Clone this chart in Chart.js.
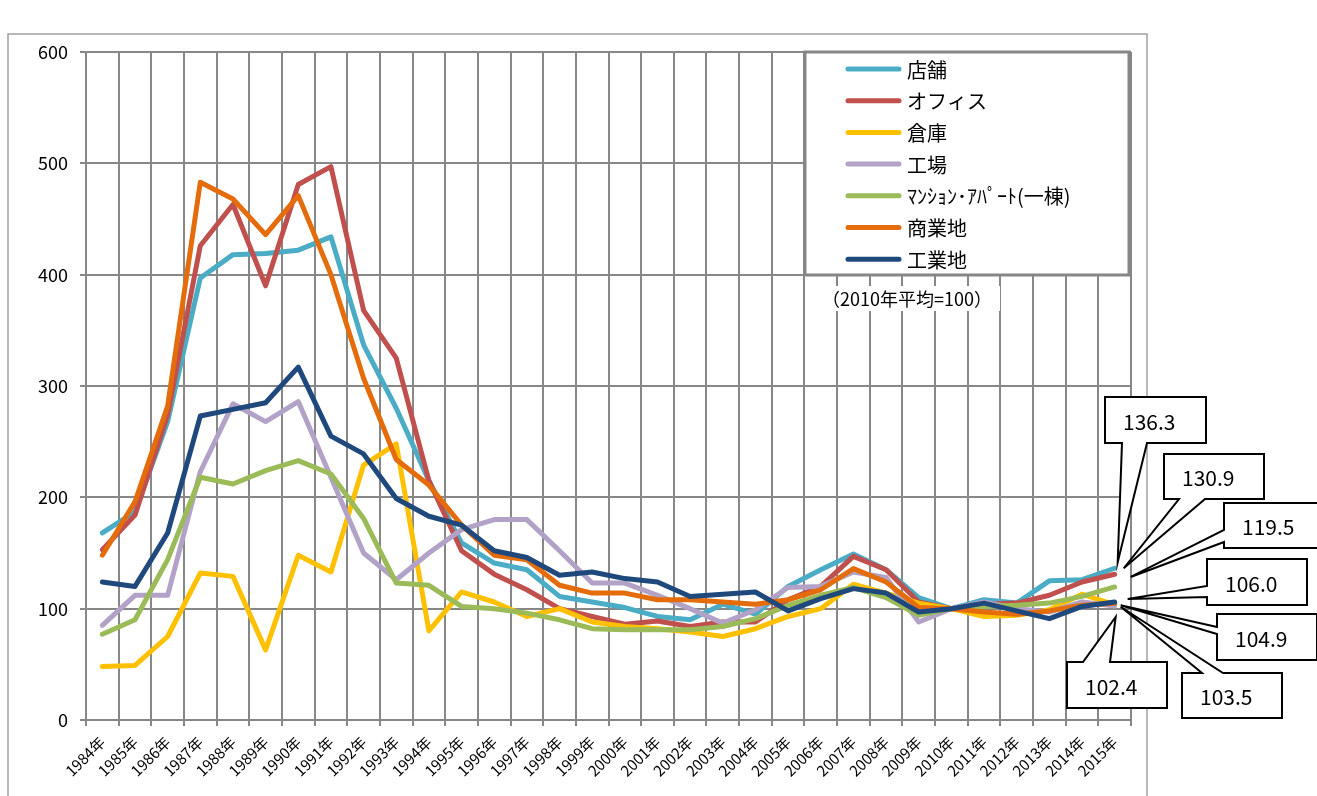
<!DOCTYPE html>
<html><head><meta charset="utf-8">
<script src="https://cdn.jsdelivr.net/npm/chart.js@4/dist/chart.umd.min.js"></script>
<style>html,body{margin:0;padding:0;background:#fff;}canvas{display:block;}</style>
</head><body>
<canvas id="c" width="1317" height="796" style="width:1317px;height:796px"></canvas>
<script>
// ---- data ----
const years = ['1984年','1985年','1986年','1987年','1988年','1989年','1990年','1991年','1992年','1993年','1994年','1995年','1996年','1997年','1998年','1999年','2000年','2001年','2002年','2003年','2004年','2005年','2006年','2007年','2008年','2009年','2010年','2011年','2012年','2013年','2014年','2015年'];
const yTicks = [0,100,200,300,400,500,600];
const seriesNames = ['店舗','オフィス','倉庫','工場','ﾏﾝｼｮﾝ･ｱﾊﾟｰﾄ(一棟)','商業地','工業地'];
const shop       = [168,187,268,397,418,419,422,434,337,280,215,159,141,135,111,106,101, 93, 90,104, 95,120,135,149,135,110,100,108,105,125,126,136.3];
const office     = [153,184,274,426,463,390,481,497,368,325,215,152,131,117,100, 93, 86, 89, 84, 88, 88,108,120,147,135,106,100,104,105,112,124,130.9];
const warehouse  = [ 48, 49, 75,132,129, 63,148,133,229,248, 80,115,106, 93,100, 88, 84, 82, 79, 75, 82, 93,100,122,114,105,100, 93, 94, 99,113,103.5];
const factory    = [ 85,112,112,223,284,268,286,218,150,126,150,171,180,180,152,123,123,112,100, 87, 99,119,120,133,128, 88,100,106,100, 97,106,102.4];
const apartment  = [ 77, 90,144,218,212,224,233,221,181,123,121,102,100, 96, 90, 82, 81, 81, 81, 84, 91,103,112,119,110, 94,100,102,103,105,111,119.5];
const commercial = [148,196,282,483,468,436,471,400,307,234,211,175,148,144,121,114,114,108,108,106,104,108,117,136,124,101,100, 97, 95, 98,103,104.9];
const industrial = [124,120,168,273,279,285,317,255,239,199,183,175,152,146,130,133,127,124,111,113,115, 98,109,118,114, 97,100,105, 98, 91,102,106.0];
const noteText = '（2010年平均=100）';
const calloutLabels = ['136.3','130.9','103.5','102.4','119.5','104.9','106.0'];

// ---- styles ----
const seriesValues = [shop, office, warehouse, factory, apartment, commercial, industrial];
const colors = ['#4BACC6','#C0504D','#FFC000','#B3A2C7','#9BBB59','#E46C0A','#1F497D'];
const FONT = '"Noto Sans CJK JP", "Noto Sans", sans-serif';
const GRID = '#878787';

// callout layout (box x,y,w,h ; wedge side ; wedge base ; tip offset from last point)
const calloutLayout = [
  {ds:0, box:[1105,397,101,46], side:'bottom', a:1122, b:1147, off:[3,-6]},
  {ds:1, box:[1164,454,100,45], side:'bottom', a:1179, b:1205, off:[9,-6]},
  {ds:4, box:[1224,503,100,45], side:'left',   a:530,  b:542,  off:[16,-10]},
  {ds:6, box:[1207,559,100,46], side:'left',   a:586,  b:597,  off:[13,-3]},
  {ds:5, box:[1217,614,100,46], side:'left',   a:627,  b:634,  off:[6,2]},
  {ds:2, box:[1182,673,100,45], side:'top',    a:1202, b:1223, off:[6,2]},
  {ds:3, box:[1067,662,100,46], side:'top',    a:1083, b:1110, off:[1,11]}
];

const framePlugin = {
  id:'frame',
  beforeDraw(chart){
    const c = chart.ctx;
    c.save();
    c.fillStyle='#fff'; c.fillRect(0,0,chart.width,chart.height);
    c.strokeStyle='#a0a0a0'; c.lineWidth=1.5;
    c.strokeRect(8,34,1139,800);
    c.restore();
  }
};

const overlayPlugin = {
  id:'overlay',
  afterDraw(chart){
    const c = chart.ctx;
    c.save();
    // legend box
    c.fillStyle='#fff'; c.fillRect(805,52,324,223);
    c.strokeStyle='#868686'; c.lineWidth=3; c.strokeRect(805,52,324,223);
    c.textBaseline='middle'; c.textAlign='left';
    seriesNames.forEach((n,i)=>{
      const y = 69 + i*31.7;
      c.strokeStyle=colors[i]; c.lineWidth=5; c.lineCap='round';
      c.beginPath(); c.moveTo(848,y); c.lineTo(899,y); c.stroke();
      c.fillStyle='#000';
      c.font = '20px '+FONT;
      c.fillText(n, 907, y+1);
    });
    // note
    c.fillStyle='#fff'; c.fillRect(816,286,184,25);
    c.fillStyle='#000'; c.font='18px '+FONT;
    c.fillText(noteText, 822, 299);
    // callouts
    calloutLayout.forEach(co=>{
      const meta = chart.getDatasetMeta(co.ds);
      const pt = meta.data[meta.data.length-1];
      const tx = pt.x + co.off[0], ty = pt.y + co.off[1];
      const [x,y,w,h] = co.box;
      c.beginPath();
      if(co.side==='bottom'){
        c.moveTo(x,y); c.lineTo(x+w,y); c.lineTo(x+w,y+h); c.lineTo(co.b,y+h); c.lineTo(tx,ty); c.lineTo(co.a,y+h); c.lineTo(x,y+h);
      } else if(co.side==='left'){
        c.moveTo(x,y); c.lineTo(x+w,y); c.lineTo(x+w,y+h); c.lineTo(x,y+h); c.lineTo(x,co.b); c.lineTo(tx,ty); c.lineTo(x,co.a);
      } else {
        c.moveTo(x,y); c.lineTo(co.a,y); c.lineTo(tx,ty); c.lineTo(co.b,y); c.lineTo(x+w,y); c.lineTo(x+w,y+h); c.lineTo(x,y+h);
      }
      c.closePath();
      c.fillStyle='#fff'; c.fill();
      c.strokeStyle='#000'; c.lineWidth=2; c.lineJoin='miter'; c.stroke();
      c.fillStyle='#000'; c.font='21px '+FONT; c.textAlign='left'; c.textBaseline='middle';
      c.fillText(calloutLabels[co.ds], x+18, y+h/2+2);
    });
    c.restore();
  }
};

new Chart(document.getElementById('c'), {
  type:'line',
  data:{
    labels: years,
    datasets: seriesNames.map((n,i)=>({
      label:n, data:seriesValues[i], borderColor:colors[i], backgroundColor:colors[i],
      borderWidth:5, pointRadius:0, pointHoverRadius:0, tension:0, fill:false,
      borderCapStyle:'round', borderJoinStyle:'round', order:6-i
    }))
  },
  options:{
    responsive:false, animation:false, devicePixelRatio:1,
    layout:{padding:{left:0, top:52, right:186, bottom:0}},
    plugins:{legend:{display:false}, tooltip:{enabled:false}},
    scales:{
      x:{
        offset:true,
        grid:{offset:true, color:GRID, lineWidth:2, tickLength:6, drawTicks:true},
        border:{color:GRID, width:2},
        ticks:{autoSkip:false, maxRotation:45, minRotation:45, padding:7, color:'#000', font:{family:FONT, size:15}},
        afterFit(s){ s.height = 76; }
      },
      y:{
        min:0, max:600,
        afterBuildTicks(s){ s.ticks = yTicks.map(v=>({value:v})); },
        grid:{color:GRID, lineWidth:2, tickLength:6, drawTicks:true},
        border:{color:GRID, width:2},
        ticks:{padding:12, color:'#000', font:{family:FONT, size:18}},
        afterFit(s){ s.width = 86; }
      }
    }
  },
  plugins:[framePlugin, overlayPlugin]
});
</script>
</body></html>
